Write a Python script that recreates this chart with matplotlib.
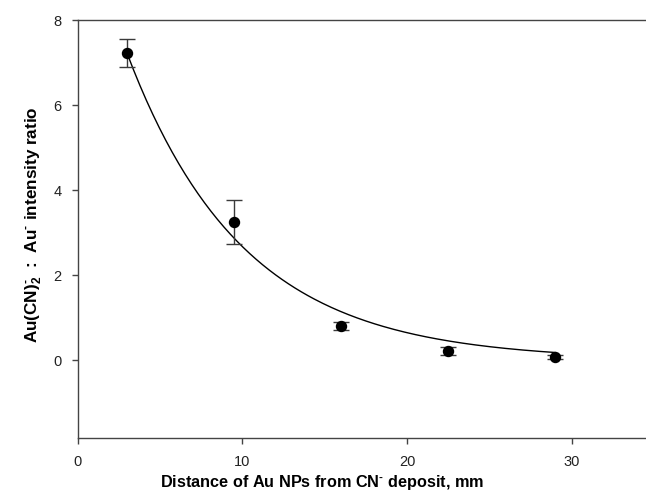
import numpy as np
import matplotlib
matplotlib.use("Agg")
import matplotlib.pyplot as plt

plt.rcParams['font.family'] = ['Liberation Sans', 'DejaVu Sans']
plt.rcParams['mathtext.fontset'] = 'custom'
plt.rcParams['mathtext.rm'] = 'Liberation Sans:bold'
plt.rcParams['mathtext.bf'] = 'Liberation Sans:bold'
plt.rcParams['mathtext.default'] = 'bf'

# measured points (distance in mm, intensity ratio, error)
distance = [3, 9.5, 16, 22.5, 29]
ratio = [7.22, 3.25, 0.80, 0.22, 0.08]
ratio_err = [0.33, 0.52, 0.10, 0.09, 0.05]

# exponential decay fit y = y0 + a*exp(-b*x), parameters
fit_y0 = 0.0
fit_a = 11.06
fit_b = 0.142
fit_range = [3, 29]

xticks = [0, 10, 20, 30]
yticks = [0, 2, 4, 6, 8]

fig = plt.figure(figsize=(6.46, 5.01), dpi=100)
# axes run past the right edge of the picture, like the cropped original
ax = fig.add_axes([0.1201, 0.1267, 0.8923, 0.8333])

xs = np.linspace(fit_range[0], fit_range[1], 200)
ax.plot(xs, fit_y0 + fit_a*np.exp(-fit_b*xs), color='black', lw=1.0, zorder=2)

ax.errorbar(distance, ratio, yerr=ratio_err, fmt='o', color='black', ms=7.2,
	ecolor='#3a3a3a', elinewidth=1.0, capsize=5.5, capthick=1.0, zorder=3)

ax.set_xlim(0, 35)
ax.set_ylim(-1.82, 8)
ax.set_xticks(xticks)
ax.set_yticks(yticks)

for side in ['left', 'bottom', 'top']:
	ax.spines[side].set_color('#444444')
	ax.spines[side].set_linewidth(1.0)
ax.spines['right'].set_visible(False)
ax.tick_params(direction='out', length=4.5, width=1.0, color='#444444',
	labelsize=10.5, labelcolor='#222222', pad=7)
ax.tick_params(axis='x', pad=8)

fig.text(322/646, 1 - 482/501, r'Distance of Au NPs from CN$^{\text{-}}$ deposit, mm',
	ha='center', va='center', fontsize=11.7, fontweight='bold')
fig.text(34/646, 1 - 225/501, r'Au(CN)$_2^{\text{-}}$  :  Au$^{\text{-}}$ intensity ratio',
	ha='center', va='center', rotation=90, fontsize=12.3, fontweight='bold')

fig.savefig('out.png', dpi=100)
